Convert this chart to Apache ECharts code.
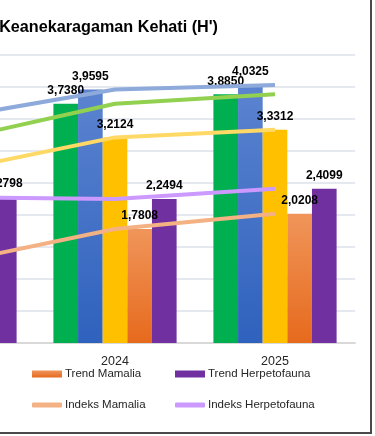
<!DOCTYPE html>
<html>
<head>
<meta charset="utf-8">
<script src="https://cdn.jsdelivr.net/npm/echarts@6/dist/echarts.min.js"></script>
<style>
html,body{margin:0;padding:0;background:#fff;}
#kehati_chart{width:375px;height:436px;}
</style>
</head>
<body>
<div id="kehati_chart"></div>
<script>
var years = ['2023', '2024', '2025'];
var trendFlora = [3.18, 3.7380, 3.8850];
var trendBurung = [3.53, 3.9595, 4.0325];
var trendKupu = [2.70, 3.2124, 3.3312];
var trendMamalia = [1.26, 1.7808, 2.0208];
var trendHerpeto = [2.2798, 2.2494, 2.4099];
var yTicks = [0, 4.5, 0.5]; // min, max, interval

var kehati_chart = echarts.init(document.getElementById('kehati_chart'));
var fontMain = "'Liberation Sans', sans-serif";

function barSeries(name, data, color)
{
	return {
		name: name,
		type: 'bar',
		barGap: 0,
		barCategoryGap: '23%',
		itemStyle: { color: color },
		label: {
			show: true,
			position: 'top',
			distance: 7,
			color: '#000',
			fontWeight: 'bold',
			fontSize: 12,
			fontFamily: fontMain,
			formatter: function(p){ return p.value.toFixed(4).replace('.', ','); }
		},
		data: data
	};
}

function lineSeries(name, data, color)
{
	return {
		name: name,
		type: 'line',
		showSymbol: false,
		symbol: 'none',
		z: 5,
		lineStyle: { color: color, width: 4 },
		itemStyle: { color: color },
		data: data
	};
}

function legendAt(name, left, top, icon, h)
{
	return {
		data: [name],
		left: left,
		top: top,
		icon: icon,
		itemWidth: 30,
		itemHeight: h,
		itemGap: 0,
		padding: 0,
		selectedMode: false,
		textStyle: { color: '#262626', fontSize: 11.5, fontFamily: fontMain, padding: [0, 0, 0, -2] }
	};
}

var blueGrad = new echarts.graphic.LinearGradient(0, 0, 0, 1, [
	{ offset: 0, color: '#5b83d0' }, { offset: 1, color: '#2f62bd' }
]);
var orangeGrad = new echarts.graphic.LinearGradient(0, 0, 0, 1, [
	{ offset: 0, color: '#f0955a' }, { offset: 1, color: '#e66a1d' }
]);

var option = {
	animation: false,
	title: {
		text: "Keanekaragaman Kehati (H')",
		right: 157,
		top: 20,
		padding: 0,
		textStyle: { fontSize: 16.2, fontWeight: 'bold', color: '#000', fontFamily: fontMain }
	},
	legend: [
		legendAt('Trend Mamalia', 32, 368, 'rect', 7),
		legendAt('Trend Herpetofauna', 175, 368, 'rect', 7),
		legendAt('Indeks Mamalia', 32, 399, 'roundRect', 5),
		legendAt('Indeks Herpetofauna', 175, 399, 'roundRect', 5)
	],
	grid: {
		left: -125,
		right: 20,
		top: 55,
		bottom: 93,
		outerBoundsMode: 'none',
		containLabel: false
	},
	xAxis: {
		type: 'category',
		data: years,
		axisTick: { show: false },
		axisLine: { lineStyle: { color: '#d9d9d9', width: 2 } },
		axisLabel: { margin: 12, color: '#262626', fontSize: 12.5, fontFamily: fontMain }
	},
	yAxis: {
		type: 'value',
		min: yTicks[0],
		max: yTicks[1],
		interval: yTicks[2],
		axisLabel: { show: false },
		axisLine: { show: false },
		splitLine: { lineStyle: { color: '#dde1ea', width: 1.5 } }
	},
	graphic: [
		{ type: 'line', shape: { x1: 371, y1: 0, x2: 371, y2: 433 }, style: { stroke: '#4a4a4a', lineWidth: 2 } },
		{ type: 'line', shape: { x1: 0, y1: 433, x2: 372, y2: 433 }, style: { stroke: '#4a4a4a', lineWidth: 2 } }
	],
	series: [
		barSeries('Trend Flora', trendFlora, '#00b050'),
		barSeries('Trend Burung', trendBurung, blueGrad),
		barSeries('Trend Kupu-kupu', trendKupu, '#ffc000'),
		barSeries('Trend Mamalia', trendMamalia, orangeGrad),
		barSeries('Trend Herpetofauna', trendHerpeto, '#7030a0'),
		lineSeries('Indeks Burung', trendBurung, '#8eaadb'),
		lineSeries('Indeks Flora', trendFlora, '#92d050'),
		lineSeries('Indeks Kupu-kupu', trendKupu, '#ffd966'),
		lineSeries('Indeks Mamalia', trendMamalia, '#f4b183'),
		lineSeries('Indeks Herpetofauna', trendHerpeto, '#cc99ff')
	]
};
kehati_chart.setOption(option);
</script>
</body>
</html>
